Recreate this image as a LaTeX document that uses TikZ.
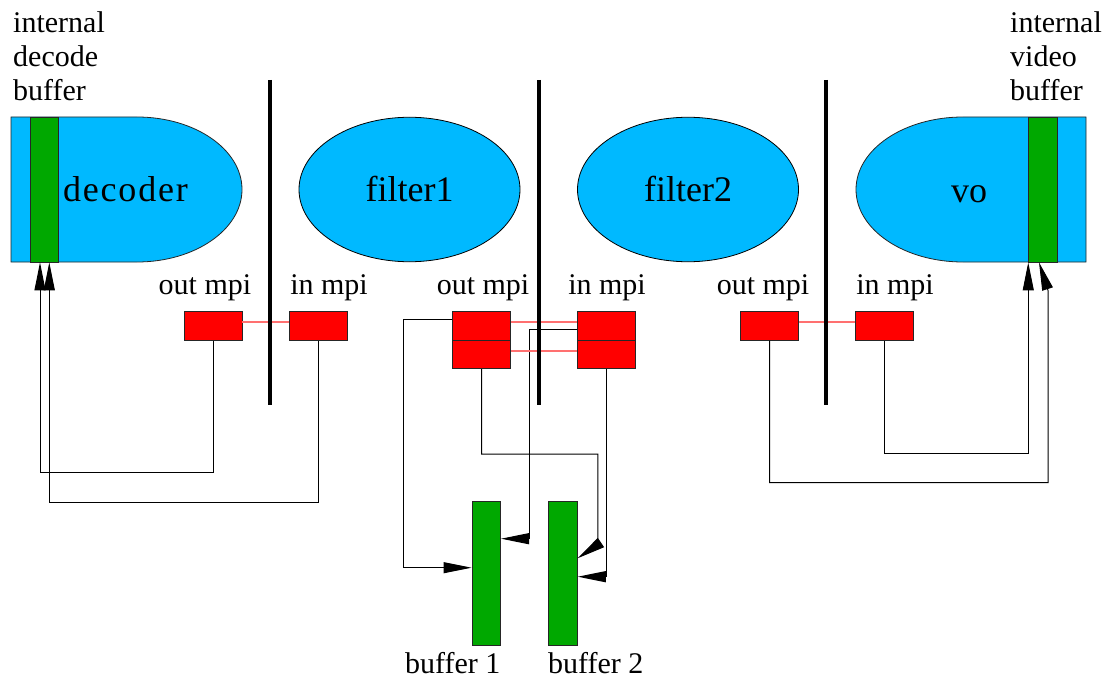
\documentclass[tikz,border=0pt]{standalone}
\usepackage{fontspec}
\setmainfont{Liberation Serif}
\usepackage{tikz}
\usetikzlibrary{shapes,arrows.meta}
\definecolor{procblue}{RGB}{0,185,255}
\definecolor{bufgreen}{RGB}{0,168,0}
\definecolor{mpired}{RGB}{255,0,0}
\definecolor{linkred}{RGB}{255,112,112}
\tikzset{every node/.style={inner sep=0pt}, wire/.style={draw,line width=1pt,
		-{Triangle[length=28pt,width=11pt]}},link/.style={draw=linkred,line width=1.2pt}}
\tikzstyle{smalltext}=[font=\fontsize{30}{34}\selectfont]
\tikzstyle{bigtext}=[font=\fontsize{36}{40}\selectfont]
\tikzstyle{mpi}=[rectangle,draw=black!85,fill=mpired,line width=0.8pt,minimum width=58pt,minimum height=28.5pt]
\tikzstyle{buf}=[rectangle,draw=black!85,fill=bufgreen,line width=0.8pt,minimum width=28.7pt,minimum height=144pt]
\tikzstyle{filt}=[ellipse,draw=black,fill=procblue,line width=0.8pt,minimum width=221pt,minimum height=144.5pt,bigtext]
\tikzstyle{proc}=[fill=procblue,draw=black!85,line width=0.8pt]
\tikzstyle{wall}=[line width=4pt]

\begin{document}
\begin{tikzpicture}[x=1pt,y=-1pt]
	\useasboundingbox (0,0) rectangle (1111,679);
	\filldraw[proc] (11,117) -- (137,117) arc[start angle=90,end angle=-90,x radius=105pt,y radius=72.5pt] -- (11,262) -- cycle;
	\filldraw[proc] (1086,117) -- (963,117) arc[start angle=90,end angle=270,x radius=107pt,y radius=72.5pt] -- (1086,262) -- cycle;
	\node at (44.3,189.5) [buf,minimum height=145pt] (decbuf) {};
	\node at (1043,189.5) [buf,minimum height=145pt] (vobuf) {};
	\node at (125.5,201.5) [anchor=base,font=\fontsize{36}{40}\selectfont\addfontfeatures{LetterSpace=5}] (dec) {decoder};
	\node at (969,203) [bigtext,anchor=base] (vo) {vo};
	\node at (409.5,189.5) [filt] (filt1) {filter1};
	\node at (688,189.5) [filt] (filt2) {filter2};
	\node at (13,101) [smalltext,anchor=base west,align=left] (declbl) {internal\\decode\\buffer};
	\node at (1010,101) [smalltext,anchor=base west,align=left] (volbl) {internal\\video\\buffer};
	
	\node at (213,326) [mpi] (outA) {};
	\node at (318,326) [mpi] (inA) {};
	\node at (481.5,326) [mpi] (outB) {};
	\node at (481.5,354.5) [mpi] (outBb) {};
	\node at (606.5,326) [mpi] (inB) {};
	\node at (606.5,354.5) [mpi] (inBb) {};
	\node at (769.7,326) [mpi] (outC) {};
	\node at (884.7,326) [mpi] (inC) {};
	\node at (205,294) [smalltext,anchor=base] (outAlbl) {out mpi};
	\node at (329,294) [smalltext,anchor=base] (inAlbl) {in mpi};
	\node at (483,294) [smalltext,anchor=base] (outBlbl) {out mpi};
	\node at (607,294) [smalltext,anchor=base] (inBlbl) {in mpi};
	\node at (763,294) [smalltext,anchor=base] (outClbl) {out mpi};
	\node at (895,294) [smalltext,anchor=base] (inClbl) {in mpi};
	
	\node at (486.3,573.7) [buf] (bufA) {};
	\node at (563,573.7) [buf] (bufB) {};
	\node at (405,673) [smalltext,anchor=base west] (bufAlbl) {buffer 1};
	\node at (548,673) [smalltext,anchor=base west] (bufBlbl) {buffer 2};
	
	\draw[wire] (outA.south) -- ++(0,132) -| ([xshift=-4.3pt]decbuf.south);
	\draw[wire] (inA.south) -- ++(0,162) -| ([xshift=5pt]decbuf.south);
	\draw[wire] (inC.south) -- ++(0,113) -| (vobuf.south west);
	\draw[wire] (outC.south) -- ++(0,142) -| ([shift={(5,28)}]vobuf.south) -- ([xshift=-4pt]vobuf.south);
	\draw[wire] ([yshift=7pt]outB.west) -- ++(-49,0) |- ([yshift=6pt]bufA.west);
	\draw[wire] (outBb.south) -- ++(0,85) -| ([shift={(20,-29)}]bufB.east) -- ([yshift=15.5pt]bufB.east);
	\draw[wire] ([yshift=-3pt]inB.west) -- ++(-48,0) |- ([yshift=35pt]bufA.east);
	\draw[wire] (inBb.south) |- ([yshift=-3pt]bufB.east);
	
	\draw[link] ([yshift=4pt]outA.east) -- ([yshift=4pt]inA.west);
	\draw[link] ([yshift=4pt]outB.east) -- ([yshift=4pt]inB.west);
	\draw[link] ([yshift=3.5pt]outBb.east) -- ([yshift=3.5pt]inBb.west);
	\draw[link] ([yshift=4pt]outC.east) -- ([yshift=4pt]inC.west);
	
	\draw[wall] (270,80) -- (270,405);
	\draw[wall] (539,80) -- (539,405);
	\draw[wall] (826,80) -- (826,405);
\end{tikzpicture}
\end{document}
